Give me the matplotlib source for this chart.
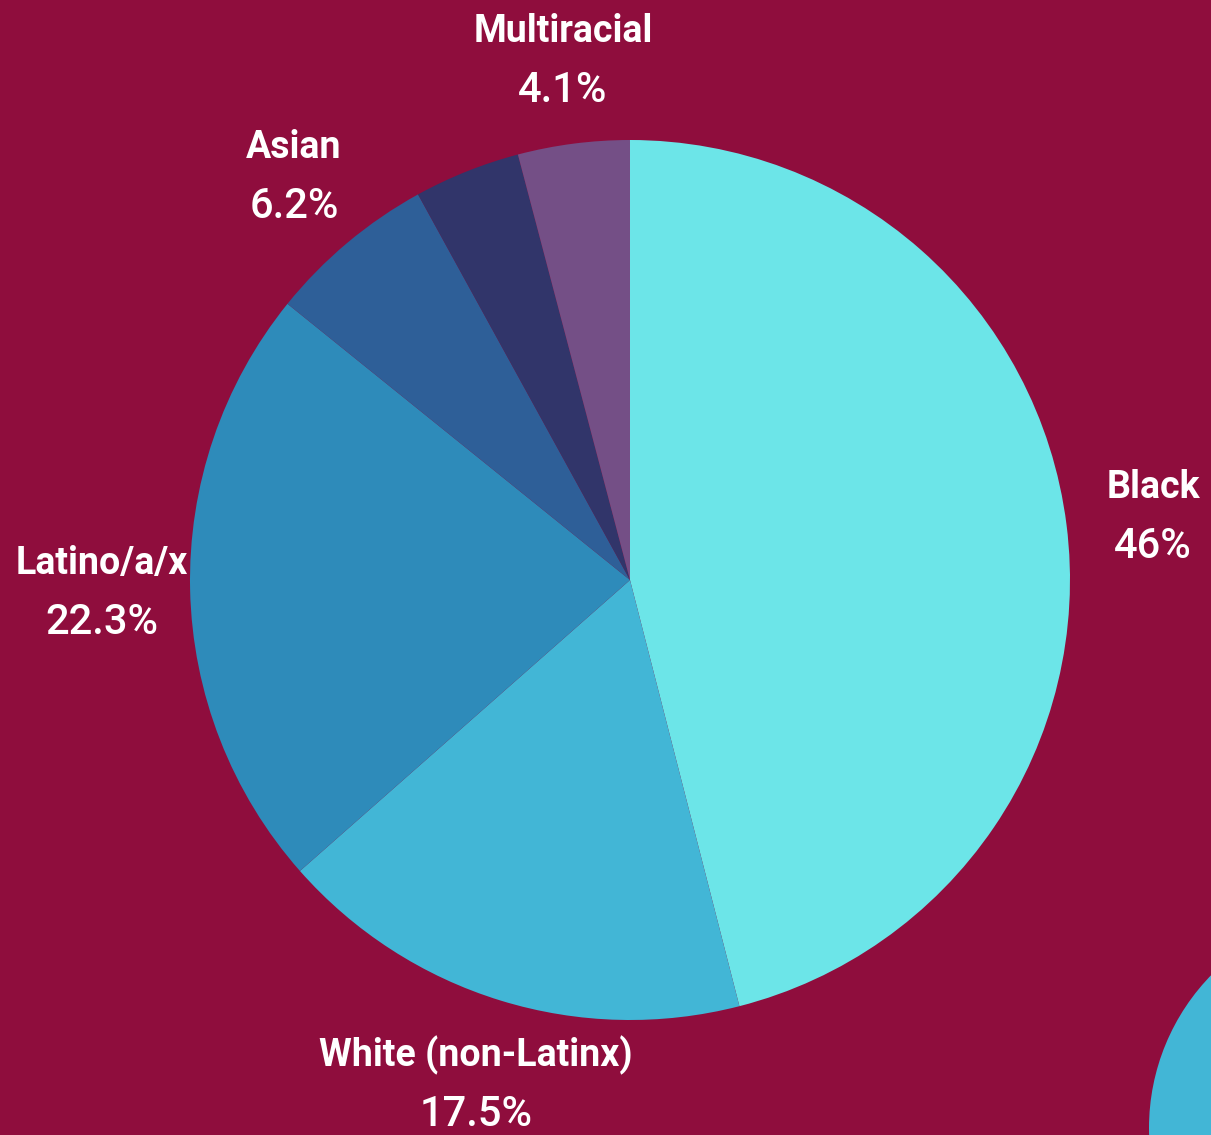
import matplotlib.pyplot as plt
from matplotlib.patches import Circle

# Student enrollment by race/ethnicity (pie, clockwise from 12 o'clock)
groups = ['Black', 'White (non-Latinx)', 'Latino/a/x', 'Asian', '', 'Multiracial']
shares = [46, 17.5, 22.3, 6.2, 3.9, 4.1]
pct_labels = ['46%', '17.5%', '22.3%', '6.2%', '', '4.1%']
colours = ['#6CE5E8', '#42B6D6', '#2E8BBA', '#2E5F98', '#31356A', '#744F86']

BG = '#8F0D3D'
W, H = 1211, 1135

# label anchor points in pixel coords (from top-left)
label_pos = [(1153, 487), (476, 1055), (102, 563), (294, 148), None, (563, 31)]

plt.rcParams['font.family'] = ['Roboto', 'DejaVu Sans']

fig = plt.figure(figsize=(W / 100, H / 100), dpi=100, facecolor=BG)
ax = fig.add_axes([0, 0, 1, 1])
ax.set_facecolor(BG)

# decorative circle in the corner
ax.add_patch(Circle((1368, H - 1128), 219, color='#42B6D6', lw=0))

ax.pie(shares, colors=colours, startangle=90, counterclock=False,
       center=(630, H - 580), radius=440, frame=True,
       wedgeprops=dict(linewidth=0))
ax.set_xlim(0, W)
ax.set_ylim(0, H)
ax.axis('off')

for name, pct, pos in zip(groups, pct_labels, label_pos):
    if pos is None:
        continue
    x, y = pos
    ax.text(x, H - y, name, ha='center', va='center', color='white',
            fontsize=27, fontweight='bold')
    ax.text(x, H - y - 59, pct, ha='center', va='center', color='white',
            fontsize=30, fontweight='medium')

fig.savefig('out.png', dpi=100, facecolor=BG)
